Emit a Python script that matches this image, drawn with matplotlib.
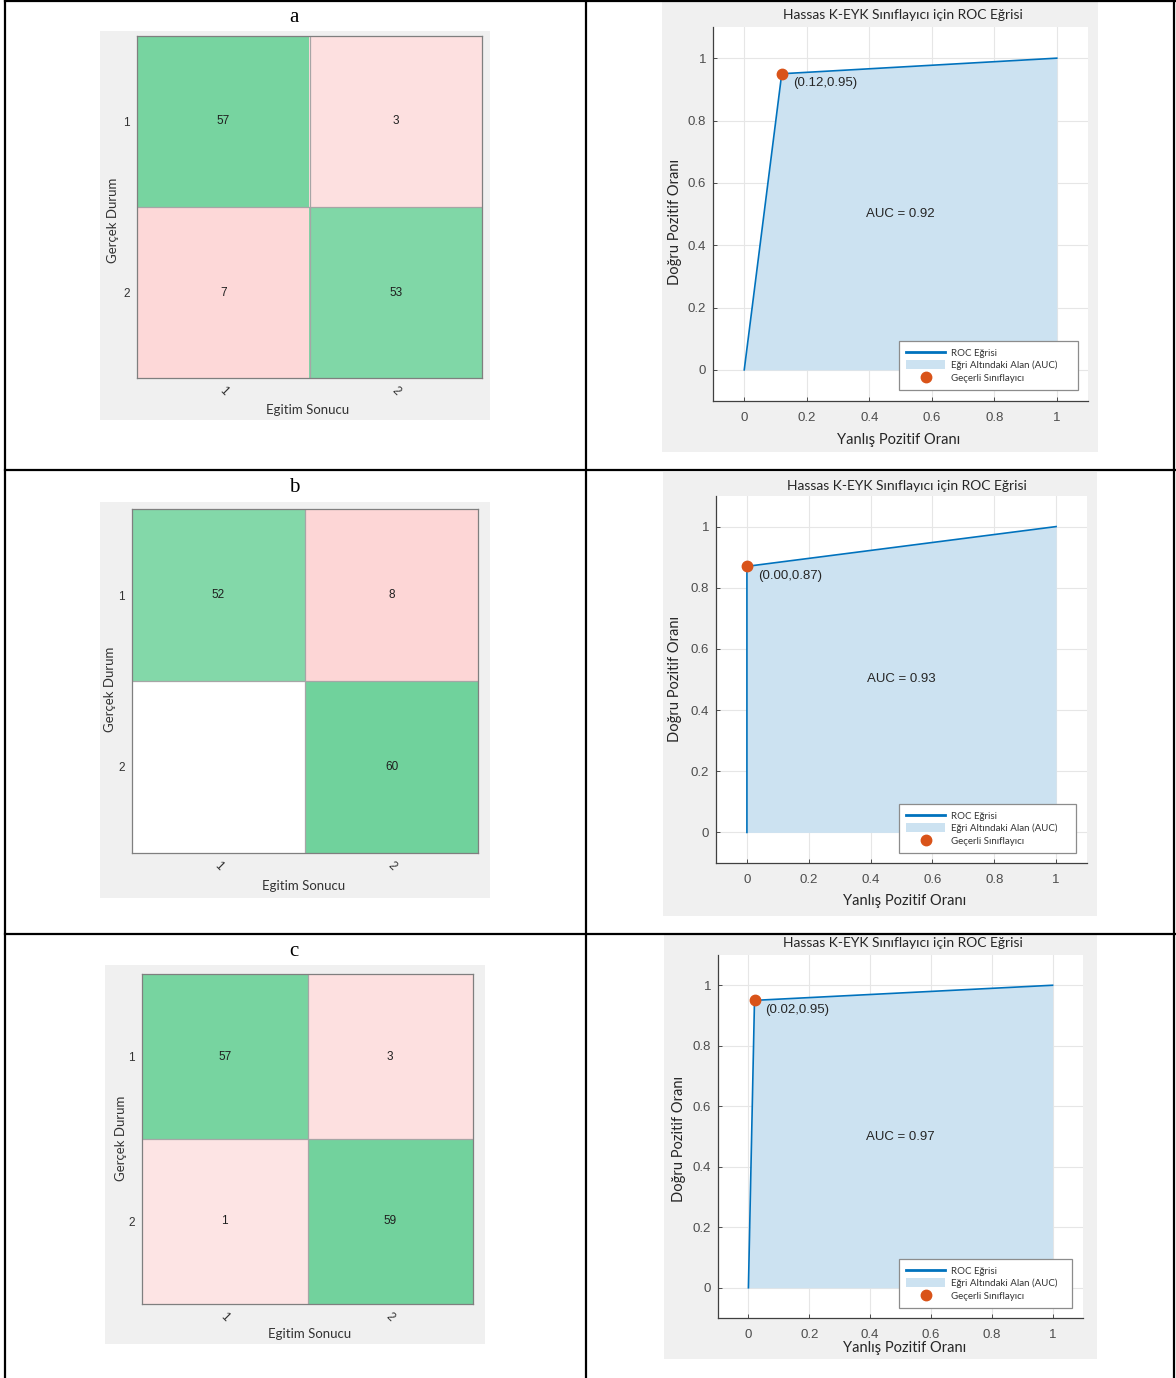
import numpy as np
import matplotlib
matplotlib.use("Agg")
import matplotlib.pyplot as plt
from matplotlib.lines import Line2D
from matplotlib.patches import Rectangle, Patch

# ---------------- data ----------------
panel_labels = ["a", "b", "c"]
class_labels = ["1", "2"]
cm_a = [[57, 3], [7, 53]]
cm_b = [[52, 8], [0, 60]]
cm_c = [[57, 3], [1, 59]]
cms = [cm_a, cm_b, cm_c]

roc_fpr_a = [0.0, 0.12, 1.0]
roc_tpr_a = [0.0, 0.95, 1.0]
roc_fpr_b = [0.0, 0.00, 1.0]
roc_tpr_b = [0.0, 0.87, 1.0]
roc_fpr_c = [0.0, 0.02, 1.0]
roc_tpr_c = [0.0, 0.95, 1.0]
roc_fprs = [roc_fpr_a, roc_fpr_b, roc_fpr_c]
roc_tprs = [roc_tpr_a, roc_tpr_b, roc_tpr_c]
op_points = [(0.12, 0.95), (0.00, 0.87), (0.02, 0.95)]
auc_values = [0.92, 0.93, 0.97]

roc_title = "Hassas K-EYK Sınıflayıcı için ROC Eğrisi"
roc_xlabel = "Yanlış Pozitif Oranı"
roc_ylabel = "Doğru Pozitif Oranı"
cm_xlabel = "Egitim Sonucu"
cm_ylabel = "Gerçek Durum"
legend_labels = ["ROC Eğrisi", "Eğri Altındaki Alan (AUC)", "Geçerli Sınıflayıcı"]
roc_ticks = [0, 0.2, 0.4, 0.6, 0.8, 1]
roc_ticklabels = ["0", "0.2", "0.4", "0.6", "0.8", "1"]

# ---------------- layout (pixels) ----------------
W, H = 1176, 1378
dpi = 100
fig = plt.figure(figsize=(W / dpi, H / dpi), dpi=dpi)
fig.patch.set_facecolor("white")

CAL = ["Lato", "DejaVu Sans"]
ARI = ["Liberation Sans", "DejaVu Sans"]
SER = ["Liberation Serif", "DejaVu Serif"]

def frect(x0, y0, x1, y1):
    return [x0 / W, 1 - y1 / H, (x1 - x0) / W, (y1 - y0) / H]

def fx(x):
    return x / W

def fy(y):
    return 1 - y / H

layout = [
    dict(lab=(294, 17),
         cm_panel=(100, 31, 490, 420), cm_ax=(137, 36, 482, 378),
         cm_ylab=(113, 220), cm_xlab=(308, 410),
         roc_panel=(662, 2, 1098, 452), roc_ax=(713, 27, 1088, 401),
         roc_title=(903, 15), roc_xlab=(899, 440), roc_ylab=(675, 222), leg=(899, 1078, 390)),
    dict(lab=(294, 488),
         cm_panel=(100, 502, 490, 898), cm_ax=(132, 509, 478, 853),
         cm_ylab=(110, 689), cm_xlab=(304, 886),
         roc_panel=(663, 472, 1097, 916), roc_ax=(716, 496, 1087, 863),
         roc_title=(907, 486), roc_xlab=(905, 901), roc_ylab=(675, 679), leg=(899, 1076, 853)),
    dict(lab=(294, 952),
         cm_panel=(105, 965, 485, 1344), cm_ax=(142, 974, 473, 1304),
         cm_ylab=(121, 1138), cm_xlab=(310, 1334),
         roc_panel=(664, 935, 1097, 1359), roc_ax=(718, 955, 1083, 1318),
         roc_title=(903, 943), roc_xlab=(905, 1348), roc_ylab=(679, 1139), leg=(899, 1072, 1308)),
]

# ---------------- table lines ----------------
lw_tab = 1.6
for y in [1, 470, 934]:
    fig.add_artist(Line2D([fx(5), fx(1175)], [fy(y), fy(y)], color="black", lw=lw_tab,
                          transform=fig.transFigure, zorder=5))
for x in [5, 586, 1174]:
    fig.add_artist(Line2D([fx(x), fx(x)], [fy(0), fy(1378)], color="black", lw=lw_tab,
                          transform=fig.transFigure, zorder=5))

PANEL = "#f0f0f0"
GREEN_FULL = np.array([112, 210, 156]) / 255.0
WHITE = np.array([1.0, 1.0, 1.0])

def cell_rgb(v, diag, total):
    if v == 0:
        return WHITE
    if diag:
        t = v / total
        return WHITE * (1 - t) + GREEN_FULL * t
    g = (230 - 2 * v) / 255.0
    return np.array([253 / 255.0, g, g])

ROC_BLUE = "#0072BD"
FILL_BLUE = "#cce2f1"
ORANGE = "#D95319"

for i, L in enumerate(layout):
    # panel label
    fig.text(fx(L["lab"][0]), fy(L["lab"][1]), panel_labels[i], family=SER, fontsize=15,
             ha="center", va="center")

    # ---- confusion matrix ----
    fig.add_artist(Rectangle((fx(L["cm_panel"][0]), fy(L["cm_panel"][3])),
                             (L["cm_panel"][2] - L["cm_panel"][0]) / W,
                             (L["cm_panel"][3] - L["cm_panel"][1]) / H,
                             transform=fig.transFigure, facecolor=PANEL, edgecolor="none", zorder=-1))
    ax = fig.add_axes(frect(*L["cm_ax"]))
    cm = np.array(cms[i])
    total = cm.sum(axis=1).max()
    rgb = np.zeros((2, 2, 3))
    for r in range(2):
        for c in range(2):
            rgb[r, c] = cell_rgb(cm[r, c], r == c, total)
    ax.imshow(rgb, extent=(0.5, 2.5, 2.5, 0.5), aspect="auto", interpolation="nearest")
    ax.set_xlim(0.5, 2.5)
    ax.set_ylim(2.5, 0.5)
    ax.axhline(1.5, color="#a6a6a6", lw=0.9)
    ax.axvline(1.5, color="#a6a6a6", lw=0.9)
    for r in range(2):
        for c in range(2):
            if cm[r, c] != 0:
                ax.text(c + 1, r + 1, str(cm[r, c]), ha="center", va="center",
                        family=ARI, fontsize=8.5, color="#1f1f1f")
    ax.set_yticks([1, 2], class_labels, family=ARI, fontsize=8.5, color="#333333")
    ax.set_xticks([1, 2], class_labels, family=ARI, fontsize=8.5, color="#333333",
                  rotation=-45, ha="center", va="top")
    ax.tick_params(length=0, pad=5)
    for s in ax.spines.values():
        s.set_color("#7f7f7f")
        s.set_linewidth(0.9)
    fig.text(fx(L["cm_ylab"][0]), fy(L["cm_ylab"][1]), cm_ylabel, family=CAL, fontsize=9.5,
             rotation=90, ha="center", va="center", color="#333333")
    fig.text(fx(L["cm_xlab"][0]), fy(L["cm_xlab"][1]), cm_xlabel, family=CAL, fontsize=9.5,
             ha="center", va="center", color="#333333")

    # ---- ROC ----
    fig.add_artist(Rectangle((fx(L["roc_panel"][0]), fy(L["roc_panel"][3])),
                             (L["roc_panel"][2] - L["roc_panel"][0]) / W,
                             (L["roc_panel"][3] - L["roc_panel"][1]) / H,
                             transform=fig.transFigure, facecolor=PANEL, edgecolor="none", zorder=-1))
    ax2 = fig.add_axes(frect(*L["roc_ax"]))
    ax2.set_facecolor("white")
    ax2.set_axisbelow(True)
    fpr = roc_fprs[i]
    tpr = roc_tprs[i]
    ax2.fill_between(fpr, tpr, 0, color=FILL_BLUE, lw=0, zorder=1)
    ax2.plot(fpr, tpr, color=ROC_BLUE, lw=1.2, zorder=2)
    ox, oy = op_points[i]
    ax2.plot([ox], [oy], "o", color=ORANGE, markersize=7.5, zorder=3)
    ax2.annotate(f"({ox:.2f},{oy:.2f})", (ox, oy), xytext=(8, -7), textcoords="offset points",
                 ha="left", va="center", family=ARI, fontsize=9.5, color="#262626")
    ax2.text(0.5, 0.5, f"AUC = {auc_values[i]:.2f}", ha="center", va="center",
             family=ARI, fontsize=9.5, color="#262626")
    ax2.set_xlim(-0.1, 1.1)
    ax2.set_ylim(-0.1, 1.1)
    ax2.set_xticks(roc_ticks, roc_ticklabels, family=ARI, fontsize=9.5, color="#4d4d4d")
    ax2.set_yticks(roc_ticks, roc_ticklabels, family=ARI, fontsize=9.5, color="#4d4d4d")
    ax2.tick_params(direction="in", length=3, width=0.7, color="#4d4d4d")
    ax2.tick_params(axis="x", pad=8)
    ax2.tick_params(axis="y", pad=5)
    ax2.grid(True, color="#e6e6e6", lw=0.8)
    ax2.spines["top"].set_visible(False)
    ax2.spines["right"].set_visible(False)
    for s in ["left", "bottom"]:
        ax2.spines[s].set_color("#404040")
        ax2.spines[s].set_linewidth(0.9)
    ax_w = L["roc_ax"][2] - L["roc_ax"][0]
    ax_h = L["roc_ax"][3] - L["roc_ax"][1]
    handles = [Line2D([], [], color=ROC_BLUE, lw=2.0),
               Patch(facecolor=FILL_BLUE, edgecolor="none"),
               Line2D([], [], marker="o", ls="none", color=ORANGE, markersize=7.5)]
    lx0, lx1, lyb = L["leg"]
    x0 = (lx0 - L["roc_ax"][0]) / ax_w
    wleg = (lx1 - lx0) / ax_w
    y0 = (L["roc_ax"][3] - lyb) / ax_h
    leg = ax2.legend(handles, legend_labels, loc="lower left",
                     bbox_to_anchor=(x0, y0, wleg, 0.1), mode="expand", borderaxespad=0,
                     prop={"family": CAL, "size": 7}, handlelength=4.0, handleheight=1.0,
                     labelspacing=0.3, handletextpad=0.6, borderpad=0.75,
                     fancybox=False, framealpha=1, edgecolor="#8c8c8c")
    leg.get_frame().set_linewidth(0.9)
    for t in leg.get_texts():
        t.set_color("#333333")

    fig.text(fx(L["roc_title"][0]), fy(L["roc_title"][1]), roc_title, family=CAL, fontsize=10,
             ha="center", va="center", color="#262626")
    fig.text(fx(L["roc_xlab"][0]), fy(L["roc_xlab"][1]), roc_xlabel, family=CAL, fontsize=10.5,
             ha="center", va="center", color="#262626")
    fig.text(fx(L["roc_ylab"][0]), fy(L["roc_ylab"][1]), roc_ylabel, family=CAL, fontsize=10.5,
             rotation=90, ha="center", va="center", color="#262626")

fig.savefig("out.png", dpi=dpi)
